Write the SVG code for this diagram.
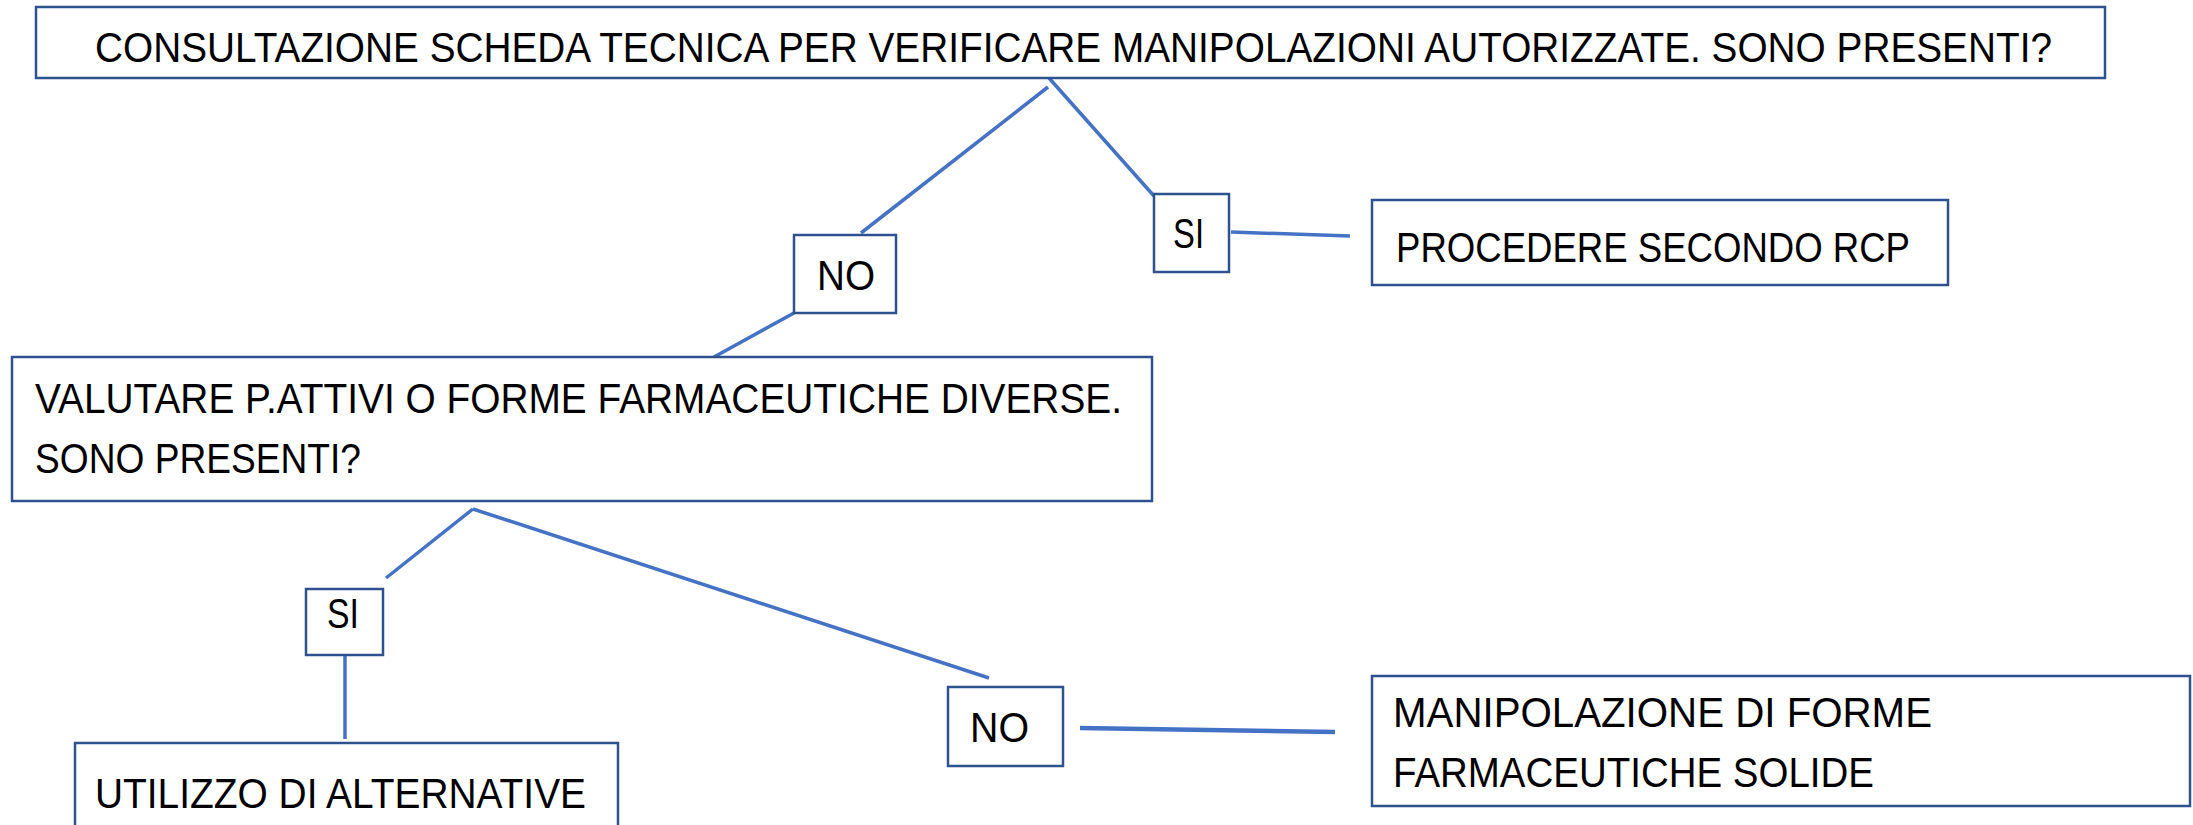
<svg xmlns="http://www.w3.org/2000/svg" width="2193" height="825" viewBox="0 0 2193 825">
<style>
.box{fill:#ffffff;stroke:#2F528F;stroke-width:2.5}
.t{font-family:"Liberation Sans",Arial,sans-serif;font-size:43px;fill:#000000}
.c{stroke:#4472C4;stroke-width:3.5;fill:none;stroke-linecap:butt}
</style>
<rect width="2193" height="825" fill="#ffffff"/>
<g id="connectors">
<line class="c" x1="1048" y1="87" x2="861" y2="233"/>
<line class="c" x1="1049" y1="78" x2="1154" y2="196"/>
<line class="c" x1="1231" y1="232" x2="1350" y2="236"/>
<line class="c" x1="794" y1="313" x2="714" y2="357"/>
<line class="c" x1="473" y1="509" x2="386" y2="578"/>
<line class="c" x1="473" y1="509" x2="989" y2="678"/>
<line class="c" x1="345" y1="655" x2="345" y2="739"/>
<line class="c" x1="1080" y1="728" x2="1335" y2="732" style="stroke-width:4.5"/>
</g>
<g id="n1">
<rect class="box" x="36" y="7" width="2069" height="71"/>
<text class="t" x="95" y="62" textLength="1957" lengthAdjust="spacingAndGlyphs">CONSULTAZIONE SCHEDA TECNICA PER VERIFICARE MANIPOLAZIONI AUTORIZZATE. SONO PRESENTI?</text>
</g>
<g id="si1">
<rect class="box" x="1154" y="194" width="75" height="78"/>
<text class="t" x="1173" y="248" textLength="31" lengthAdjust="spacingAndGlyphs">SI</text>
</g>
<g id="n2">
<rect class="box" x="1372" y="200" width="576" height="85"/>
<text class="t" x="1396" y="262" textLength="514" lengthAdjust="spacingAndGlyphs">PROCEDERE SECONDO RCP</text>
</g>
<g id="no1">
<rect class="box" x="794" y="235" width="102" height="78"/>
<text class="t" x="817" y="290" textLength="58" lengthAdjust="spacingAndGlyphs">NO</text>
</g>
<g id="n3">
<rect class="box" x="12" y="357" width="1140" height="144"/>
<text class="t" x="35" y="413" textLength="1087" lengthAdjust="spacingAndGlyphs">VALUTARE P.ATTIVI O FORME FARMACEUTICHE DIVERSE.</text>
<text class="t" x="35" y="473" textLength="326" lengthAdjust="spacingAndGlyphs">SONO PRESENTI?</text>
</g>
<g id="si2">
<rect class="box" x="306" y="589" width="77" height="66"/>
<text class="t" x="327" y="628" textLength="32" lengthAdjust="spacingAndGlyphs">SI</text>
</g>
<g id="no2">
<rect class="box" x="948" y="687" width="115" height="79"/>
<text class="t" x="970" y="742" textLength="59" lengthAdjust="spacingAndGlyphs">NO</text>
</g>
<g id="n4">
<rect class="box" x="75" y="743" width="543" height="100"/>
<text class="t" x="95" y="808" textLength="491" lengthAdjust="spacingAndGlyphs">UTILIZZO DI ALTERNATIVE</text>
</g>
<g id="n5">
<rect class="box" x="1372" y="676" width="818" height="130"/>
<text class="t" x="1393" y="727" textLength="539" lengthAdjust="spacingAndGlyphs">MANIPOLAZIONE DI FORME</text>
<text class="t" x="1393" y="787" textLength="481" lengthAdjust="spacingAndGlyphs">FARMACEUTICHE SOLIDE</text>
</g>
</svg>
